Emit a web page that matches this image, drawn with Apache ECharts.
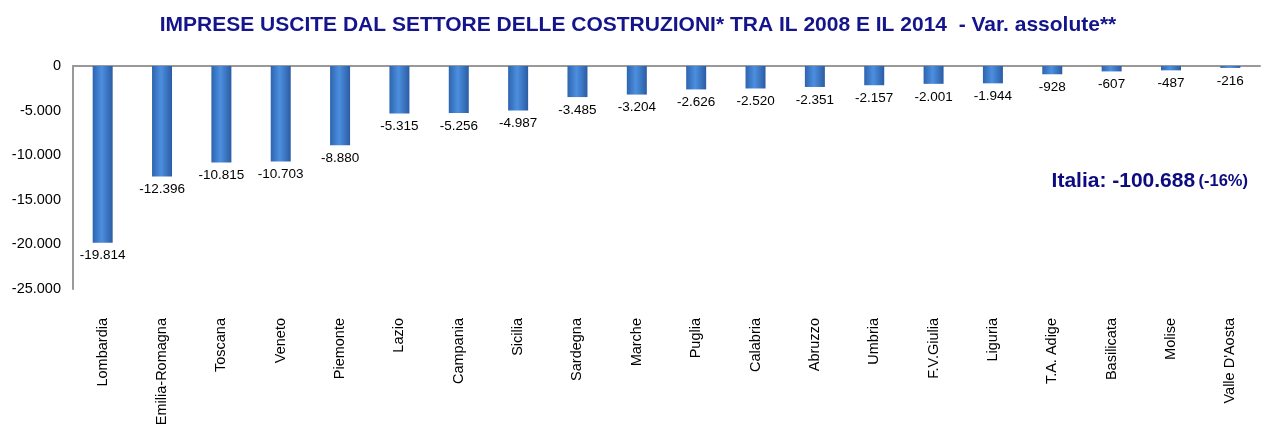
<!DOCTYPE html>
<html>
<head>
<meta charset="utf-8">
<script src="https://cdn.jsdelivr.net/npm/echarts@6/dist/echarts.min.js"></script>
<style>
  html, body { margin: 0; padding: 0; background: #fff; }
  #chart { width: 1262px; height: 431px; }
</style>
</head>
<body>
<div id="chart"></div>
<script>
const regions = ['Lombardia', 'Emilia-Romagna', 'Toscana', 'Veneto', 'Piemonte', 'Lazio', 'Campania', 'Sicilia', 'Sardegna', 'Marche',
  'Puglia', 'Calabria', 'Abruzzo', 'Umbria', 'F.V.Giulia', 'Liguria', 'T.A. Adige', 'Basilicata', 'Molise', "Valle D'Aosta"];
const variations = [-19814, -12396, -10815, -10703, -8880, -5315, -5256, -4987, -3485, -3204,
  -2626, -2520, -2351, -2157, -2001, -1944, -928, -607, -487, -216];
const italiaTotal = '-100.688';
const italiaPct = '(-16%)';

const fmt = v => v.toLocaleString('de-DE');
const FONT = 'Liberation Sans, Arial, sans-serif';

const chart = echarts.init(document.getElementById('chart'));

const barColor = new echarts.graphic.LinearGradient(0, 0, 1, 0, [
  { offset: 0, color: '#2e64ae' },
  { offset: 0.45, color: '#4c8fdf' },
  { offset: 1, color: '#2b5ca3' }
]);

// top axis: line and ticks at zero, ticks crossing the line
const topAxis = (inside) => ({
  type: 'category',
  data: regions,
  position: 'top',
  axisLine: { show: !inside, lineStyle: { color: '#999', width: 2 } },
  axisTick: { inside: inside, length: 5, lineStyle: { color: '#999', width: 2 } },
  axisLabel: { show: false }
});

chart.setOption({
  animation: false,
  textStyle: { fontFamily: FONT },
  title: {
    text: 'IMPRESE USCITE DAL SETTORE DELLE COSTRUZIONI* TRA IL 2008 E IL 2014  - Var. assolute**',
    left: 633,
    textAlign: 'center',
    top: 10,
    textStyle: { color: '#14148c', fontSize: 21, fontWeight: 'bold', fontFamily: FONT }
  },
  grid: { left: 73, right: 2, top: 66, bottom: 142, containLabel: false },
  xAxis: [{
    type: 'category',
    data: regions,
    position: 'bottom',
    axisLine: { show: false, onZero: false },
    axisTick: { show: false },
    axisLabel: { rotate: 90, color: '#000', fontSize: 14.5, margin: 29, interval: 0 }
  }, topAxis(false), topAxis(true)],
  yAxis: {
    type: 'value',
    min: -25000,
    max: 0,
    interval: 5000,
    axisLine: { show: true, onZero: false, lineStyle: { color: '#999', width: 2 } },
    axisTick: { show: false },
    splitLine: { show: false },
    axisLabel: { color: '#000', fontSize: 14.5, margin: 12, formatter: v => fmt(v) }
  },
  series: [{
    type: 'bar',
    data: variations,
    barWidth: 20,
    itemStyle: { color: barColor },
    label: {
      show: true,
      position: 'bottom',
      distance: 6,
      color: '#000',
      fontSize: 13.5,
      formatter: p => fmt(p.value)
    }
  }],
  graphic: [{
    type: 'text',
    right: 14,
    top: 171,
    style: {
      text: '{a|Italia: ' + italiaTotal + '} {b|' + italiaPct + '}',
      rich: {
        a: { fontSize: 21, fontWeight: 'bold', fill: '#0c0c80', fontFamily: FONT },
        b: { fontSize: 16.5, fontWeight: 'bold', fill: '#0c0c80', fontFamily: FONT }
      }
    }
  }]
});
</script>
</body>
</html>
